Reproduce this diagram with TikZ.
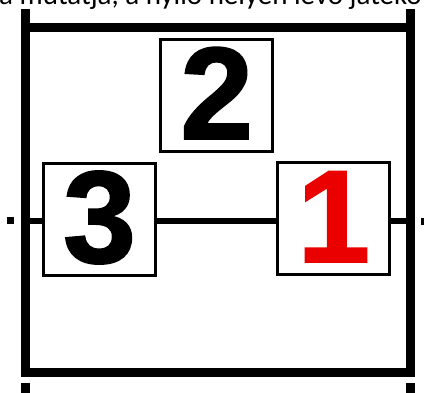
\documentclass[tikz,border=0pt]{standalone}
\usepackage{fontspec}
\setmainfont{Liberation Sans}
\newfontfamily\digitfont[FakeBold=1.5]{Liberation Sans Bold}
\newfontfamily\capfont{Carlito}
\definecolor{digitred}{RGB}{235,0,0}
\begin{document}
\begin{tikzpicture}[x=1pt,y=-1pt,
  frame/.style={line width=9pt,line cap=rect},
  numbox/.style={draw,line width=3pt,fill=white,inner sep=0pt,
    minimum width=112pt,minimum height=112pt,
    text height=86pt,text depth=0pt,
    font=\digitfont\fontsize{131}{131}\selectfont},
  wire/.style={line width=6pt},
  dotmark/.style={fill=black}]
\useasboundingbox (0,0) rectangle (424,392);
\clip (0,0) rectangle (424,392);
% caption line cut by the top edge
\node[anchor=base west,inner sep=0pt,font=\capfont\fontsize{29}{29}\selectfont] (cap) at (-1,4) {a mutatja, a nyíló helyen levő játéko};
% outer frame
\coordinate (tl) at (25.5,27.5);
\coordinate (tr) at (410.5,27.5);
\coordinate (bl) at (25.5,372);
\coordinate (br) at (410.5,372);
\draw[frame] (25.5,13) -- (bl) -- (br) -- (410.5,13);
\draw[frame] (tl) -- (tr);
\draw[line width=9pt] (25.5,383) -- (25.5,400);
\draw[line width=9pt] (410.5,383) -- (410.5,400);
% wire anchors on the frame
\coordinate (wl) at (25.5,221);
\coordinate (wr) at (410.5,221);
% boxes
\node[numbox] (b2) at (216.7,95.8) {2};
\node[numbox] (b3) at (99.5,219.5) {3};
\node[numbox,text=digitred] (b1) at (333.7,218.8) {1};
% wires
\draw[wire] (wl) -- (b3.west |- wl);
\draw[wire] (b3.east |- wl) -- (b1.west |- wl);
\draw[wire] (b1.east |- wr) -- (wr);
% end dots
\node[dotmark,inner sep=0pt,minimum size=7pt] (dl) at (10.5,220) {};
\node[dotmark,inner sep=0pt,minimum size=7pt] (dr) at (424.5,221.5) {};
\end{tikzpicture}
\end{document}
